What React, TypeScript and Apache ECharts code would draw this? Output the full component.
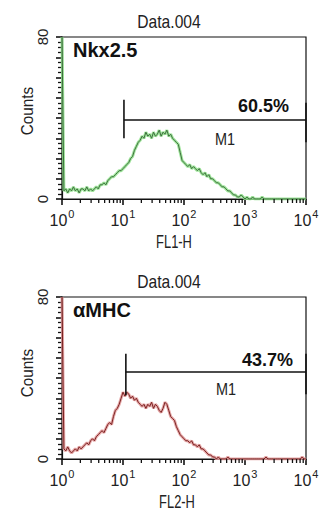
import React, { useEffect, useRef } from 'react';
import * as echarts from 'echarts';

// ---- axes ----
const CHANNELS_PER_DECADE = 32;
const X_MAX = 128;
const X_EXPONENTS = ['0', '1', '2', '3', '4'];
const MINOR_FACTORS = [2, 3, 4, 5, 6, 7, 8, 9];
const Y_MAX = 80;
const Y_MAJOR_STEP = 10;
const Y_LABELS = [0, 80];

// ---- texts ----
const PANEL_TITLES = ['Data.004', 'Data.004'];
const MARKERS = ['Nkx2.5', 'αMHC'];
const X_NAMES = ['FL1-H', 'FL2-H'];
const Y_NAME = 'Counts';
const PERCENTS = ['60.5%', '43.7%'];
const GATE_NAMES = ['M1', 'M1'];

// ---- gates (channel, counts) ----
const GATE_START = [32.5, 33.5];
const GATE_END = [128, 128];
const GATE_LEVEL = [39, 43];
const GATE_LEFT_SPAN = [[30, 49], [31.5, 52]];
const GATE_RIGHT_SPAN = [[28, 47.5], [32, 52]];

// ---- histogram counts per channel (0..128) ----
const NKX_COUNTS = [
  80,
  4, 5, 3, 5, 4, 6, 4, 5, 3, 5,
  5, 4, 6, 4, 5, 4, 5, 6, 5, 7,
  7, 8, 7, 9, 10, 11, 11, 12, 13, 14,
  14, 15, 16, 17, 18, 20, 21, 24, 26, 28,
  29, 31, 30, 33, 31, 32, 30, 33, 31, 32,
  34, 31, 33, 32, 34, 31, 32, 30, 29, 28,
  27, 23, 19, 18, 17, 16, 17, 15, 16, 15,
  14, 15, 13, 12, 13, 11, 12, 10, 10, 9,
  8, 8, 7, 6, 6, 5, 4, 4, 3, 2,
  2, 1, 1, 2, 1, 0, 1, 0, 0, 1,
  0, 0, 0, 0, 1, 0, 0, 0, 0, 0,
  0, 0, 0, 0, 0, 0, 0, 0, 0, 0,
  0, 0, 0, 0, 0, 0, 0, 0,
];

const MHC_COUNTS = [
  80,
  5, 4, 6, 4, 3, 4, 5, 4, 6, 5,
  6, 7, 8, 7, 9, 10, 9, 11, 12, 13,
  14, 13, 15, 17, 18, 17, 21, 24, 25, 27,
  30, 33, 31, 33, 32, 30, 31, 29, 30, 28,
  27, 26, 27, 25, 27, 26, 28, 25, 27, 26,
  24, 23, 25, 28, 27, 24, 21, 20, 19, 16,
  14, 12, 11, 10, 9, 9, 8, 9, 7, 7,
  6, 7, 5, 5, 4, 3, 2, 2, 1, 1,
  0, 1, 0, 0, 0, 0, 1, 0, 0, 0,
  0, 0, 0, 0, 0, 0, 0, 0, 0, 0,
  0, 0, 0, 0, 0, 0, 1, 0, 0, 0,
  0, 0, 0, 0, 0, 0, 0, 0, 0, 0,
  0, 0, 0, 0, 0, 1, 0, 0,
];

const SERIES_COUNTS = [NKX_COUNTS, MHC_COUNTS];
const HALO_COLORS = ['#8ee08a', '#e29a9a'];
const CORE_COLORS = ['#3f6f3f', '#7a2222'];

const FONT = "'Liberation Sans', Arial, sans-serif";
const TEXT = '#222';
const AXIS = '#111';

const GRIDS = [
  { left: 62, top: 37, width: 244, height: 162 },
  { left: 62, top: 297, width: 244, height: 162 },
];

const X_MINOR_TICK_PX = 4;

export default function App() {
  const ref = useRef<HTMLDivElement>(null);

  useEffect(() => {
    if (!ref.current) return;
    const chart = echarts.init(ref.current, undefined, { renderer: 'svg' });

    const xMinorTicks: number[] = [];
    X_EXPONENTS.forEach((_, d) => {
      if (d < X_EXPONENTS.length - 1) {
        MINOR_FACTORS.forEach((f) => xMinorTicks.push((d + Math.log10(f)) * CHANNELS_PER_DECADE));
      }
    });

    const xAxis: any[] = [];
    const yAxis: any[] = [];
    const series: any[] = [];

    GRIDS.forEach((g, i) => {
      xAxis.push({
        type: 'value',
        gridIndex: i,
        position: 'bottom',
        min: 0,
        max: X_MAX,
        interval: CHANNELS_PER_DECADE,
        splitLine: { show: false },
        axisLine: { show: true, lineStyle: { color: AXIS, width: 1.2 } },
        axisTick: { show: true, inside: false, length: 6, lineStyle: { color: AXIS, width: 1.6 } },
        axisLabel: {
          margin: 9,
          formatter: (v: number) => `{b|10}{s|${X_EXPONENTS[Math.round(v / CHANNELS_PER_DECADE)]}}`,
          rich: {
            b: { fontFamily: FONT, fontSize: 16, color: TEXT, lineHeight: 20, verticalAlign: 'bottom' },
            s: { fontFamily: FONT, fontSize: 11, color: TEXT, lineHeight: 20, verticalAlign: 'top', padding: [0, 0, 0, 1] },
          },
        },
      });
      yAxis.push({
        type: 'value',
        gridIndex: i,
        min: 0,
        max: Y_MAX,
        interval: Y_MAJOR_STEP,
        splitLine: { show: false },
        axisLine: { show: true, lineStyle: { color: AXIS, width: 1.2 } },
        axisTick: { show: true, inside: false, length: 6, lineStyle: { color: AXIS, width: 1.6 } },
        minorTick: { show: true, splitNumber: 4, length: 4, lineStyle: { color: AXIS, width: 1.3 } },
        axisLabel: {
          rotate: 90,
          margin: 12,
          fontFamily: FONT,
          fontSize: 15,
          color: TEXT,
          formatter: (v: number) => (Y_LABELS.includes(v) ? String(v) : ''),
        },
      });

      // log-decade minor ticks on the x axis, drawn through the axes' scales
      const yPerPx = Y_MAX / g.height;
      xMinorTicks.forEach((v) => {
        series.push({
          type: 'line',
          xAxisIndex: i,
          yAxisIndex: i,
          data: [[v, 0], [v, -X_MINOR_TICK_PX * yPerPx]],
          symbol: 'none',
          clip: false,
          silent: true,
          lineStyle: { color: AXIS, width: 1.3 },
          z: 6,
        });
      });

      const data = SERIES_COUNTS[i].map((c, ch) => [ch, c]);
      series.push({
        type: 'line',
        xAxisIndex: i,
        yAxisIndex: i,
        data,
        symbol: 'none',
        lineStyle: { color: HALO_COLORS[i], width: 3, opacity: 0.85 },
        z: 2,
      });
      series.push({
        type: 'line',
        xAxisIndex: i,
        yAxisIndex: i,
        data,
        symbol: 'none',
        lineStyle: { color: CORE_COLORS[i], width: 1 },
        z: 3,
      });
      const gateSegments = [
        [[GATE_START[i], GATE_LEFT_SPAN[i][0]], [GATE_START[i], GATE_LEFT_SPAN[i][1]]],
        [[GATE_START[i], GATE_LEVEL[i]], [GATE_END[i], GATE_LEVEL[i]]],
        [[GATE_END[i], GATE_RIGHT_SPAN[i][0]], [GATE_END[i], GATE_RIGHT_SPAN[i][1]]],
      ];
      gateSegments.forEach((seg) => {
        series.push({
          type: 'line',
          xAxisIndex: i,
          yAxisIndex: i,
          data: seg,
          symbol: 'none',
          clip: false,
          lineStyle: { color: AXIS, width: 1.6 },
          z: 4,
        });
      });
    });

    const txt = (x: number, y: number, text: string, style: any, extra: any = {}) => ({
      type: 'text',
      x,
      y,
      z: 10,
      ...extra,
      style: { text, fill: TEXT, fontFamily: FONT, verticalAlign: 'middle', ...style },
    });

    const graphic: any[] = [];
    const titleY = [21, 281];
    const markerY = [50, 310];
    const pctPos = [[289, 106], [293, 360]];
    const m1Pos = [[225, 139], [226, 389]];
    const xNamePos = [[174, 241], [177, 501]];
    const countsY = [111, 373];
    [0, 1].forEach((i) => {
      graphic.push(txt(169, titleY[i], PANEL_TITLES[i], { fontSize: 17, align: 'center' }, { scaleX: 0.92, scaleY: 1.12 }));
      graphic.push(txt(73, markerY[i], MARKERS[i], { fontSize: 20, fontWeight: 'bold', align: 'left', fill: '#111' }));
      graphic.push(txt(pctPos[i][0], pctPos[i][1], PERCENTS[i], { fontSize: 18, fontWeight: 'bold', align: 'right', fill: '#111' }));
      graphic.push(txt(m1Pos[i][0], m1Pos[i][1], GATE_NAMES[i], { fontSize: 17, align: 'center' }, { scaleX: 0.85 }));
      graphic.push(txt(xNamePos[i][0], xNamePos[i][1], X_NAMES[i], { fontSize: 19, align: 'center' }, { scaleX: 0.68 }));
      graphic.push(
        txt(26.5, countsY[i], Y_NAME, { fontSize: 17, align: 'center' }, { rotation: Math.PI / 2, scaleX: 0.9 })
      );
    });

    chart.setOption({
      animation: false,
      backgroundColor: '#fff',
      grid: GRIDS.map((g) => ({ ...g, show: true, borderColor: AXIS, borderWidth: 1.2, backgroundColor: '#fff' })),
      xAxis,
      yAxis,
      series,
      graphic,
    });

    return () => chart.dispose();
  }, []);

  return (
    <div
      ref={ref}
      style={{ position: 'absolute', left: 0, top: 0, width: 326, height: 520 }}
    />
  );
}
